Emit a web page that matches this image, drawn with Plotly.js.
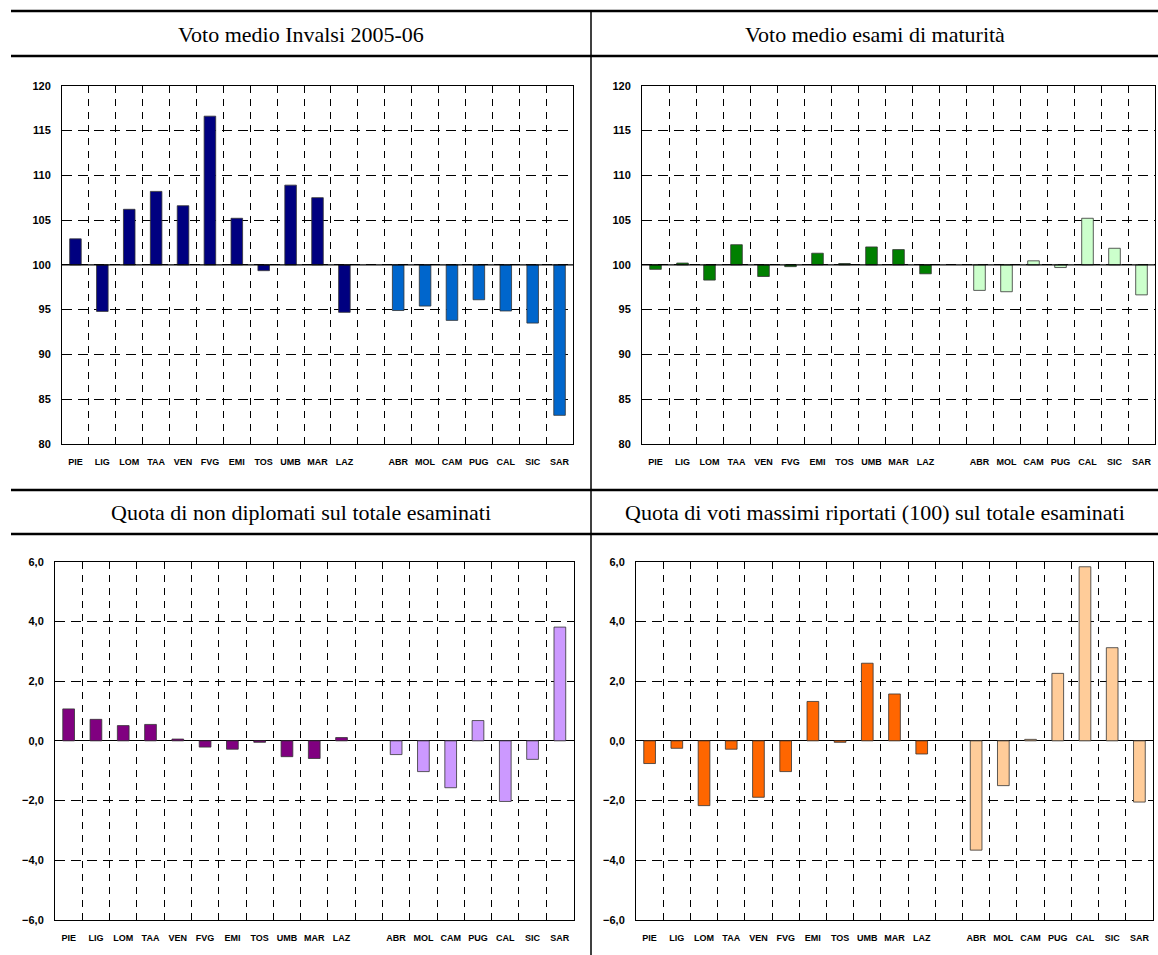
<!DOCTYPE html>
<html>
<head>
<meta charset="utf-8">
<script src="https://cdn.plot.ly/plotly-3.0.1.min.js"></script>
<style>
  html, body { margin: 0; padding: 0; background: #fff; }
  #chart { width: 1158px; height: 955px; }
</style>
</head>
<body>
<div id="chart"></div>
<script>
// ---- Data ----
const northRegions = ["PIE","LIG","LOM","TAA","VEN","FVG","EMI","TOS","UMB","MAR","LAZ"];
const southRegions = ["ABR","MOL","CAM","PUG","CAL","SIC","SAR"];
const gapLabel = " ";

const panelTitles = [
  "Voto medio Invalsi 2005-06",
  "Voto medio esami di maturità",
  "Quota di non diplomati sul totale esaminati",
  "Quota di voti massimi riportati (100) sul totale esaminati"
];

// Voto medio Invalsi 2005-06 (Italia = 100)
const invalsiNorth = [102.9, 94.8, 106.2, 108.2, 106.6, 116.6, 105.2, 99.35, 108.9, 107.5, 94.7];
const invalsiSouth = [94.9, 95.4, 93.8, 96.1, 94.85, 93.5, 83.2];

// Voto medio esami di maturità (Italia = 100)
const maturitaNorth = [99.5, 100.2, 98.3, 102.25, 98.7, 99.8, 101.3, 100.15, 102.0, 101.7, 99.0];
const maturitaSouth = [97.15, 97.0, 100.45, 99.7, 105.2, 101.85, 96.65];

// Quota di non diplomati (differenza dalla media)
const nonDiplNorth = [1.07, 0.72, 0.51, 0.55, 0.06, -0.21, -0.28, -0.05, -0.53, -0.59, 0.11];
const nonDiplSouth = [-0.46, -1.03, -1.57, 0.68, -2.03, -0.62, 3.81];

// Quota di voti massimi (differenza dalla media)
const votiMaxNorth = [-0.76, -0.25, -2.17, -0.28, -1.89, -1.03, 1.32, -0.05, 2.60, 1.57, -0.44];
const votiMaxSouth = [-3.66, -1.50, 0.05, 2.26, 5.83, 3.12, -2.05];

// ---- Build ----
const W = 1158, H = 955;
const X = px => px / W;
const Y = py => 1 - py / H;

const categories = [...northRegions, gapLabel, ...southRegions];

function buildTrace(north, south, base, cNorth, cSouth, axisIdx) {
  const vals = [...north, null, ...south];
  const y = vals.map(v => v === null ? null : v - base);
  const colors = [...north.map(() => cNorth), cNorth, ...south.map(() => cSouth)];
  const s = axisIdx === 1 ? "" : String(axisIdx);
  return {
    type: "bar",
    x: categories,
    y: y,
    base: base,
    marker: { color: colors, line: { color: "#333333", width: 0.8 } },
    xaxis: "x" + s,
    yaxis: "y" + s,
    hoverinfo: "skip",
    showlegend: false
  };
}

const traces = [
  buildTrace(invalsiNorth, invalsiSouth, 100, "#000080", "#0066CC", 1),
  buildTrace(maturitaNorth, maturitaSouth, 100, "#008000", "#CCFFCC", 2),
  buildTrace(nonDiplNorth, nonDiplSouth, 0, "#800080", "#CC99FF", 3),
  buildTrace(votiMaxNorth, votiMaxSouth, 0, "#FF6600", "#FFCC99", 4)
];

const tickFont = { family: "Liberation Sans, Arial, sans-serif", size: 11, color: "#000", weight: "bold" };
const catFont = { family: "Liberation Sans, Arial, sans-serif", size: 9, color: "#000", weight: "bold" };

function xAxis(domain, anchor) {
  return {
    domain: domain, anchor: anchor,
    type: "category",
    categoryorder: "array", categoryarray: categories,
    range: [-0.5, categories.length - 0.5],
    tickson: "boundaries",
    ticks: "",
    tickangle: 0,
    showgrid: true, gridcolor: "#000", gridwidth: 1, griddash: "7px,6px",
    showline: true, mirror: true, linecolor: "#000", linewidth: 1,
    zeroline: false,
    tickfont: catFont,
    ticklabelstandoff: 9,
    fixedrange: true
  };
}
function yAxis(domain, anchor, range, dtick, fmt) {
  return {
    domain: domain, anchor: anchor,
    range: range, dtick: dtick, tick0: range[0],
    tickformat: fmt,
    ticks: "",
    showgrid: true, gridcolor: "#000", gridwidth: 1, griddash: "10px,6px",
    showline: true, mirror: true, linecolor: "#000", linewidth: 1,
    zeroline: range[0] < 0, zerolinecolor: "#000", zerolinewidth: 1.2,
    tickfont: tickFont,
    ticklabelstandoff: 8,
    fixedrange: true
  };
}

const row1 = [Y(444), Y(85.7)];
const row2 = [Y(920), Y(561.7)];

const layout = {
  width: W, height: H, autosize: false,
  margin: { l: 0, r: 0, t: 0, b: 0 },
  paper_bgcolor: "#fff", plot_bgcolor: "#fff",
  separators: ",.",
  bargap: 0.57,
  xaxis: xAxis([X(62), X(573)], "y"),
  yaxis: yAxis(row1, "x", [80, 120], 5, "d"),
  xaxis2: xAxis([X(642), X(1155)], "y2"),
  yaxis2: yAxis(row1, "x2", [80, 120], 5, "d"),
  xaxis3: xAxis([X(55), X(573.5)], "y3"),
  yaxis3: yAxis(row2, "x3", [-6, 6], 2, ".1f"),
  xaxis4: xAxis([X(636), X(1153)], "y4"),
  yaxis4: yAxis(row2, "x4", [-6, 6], 2, ".1f"),
  annotations: [
    { text: panelTitles[0], x: X(301), y: Y(34) },
    { text: panelTitles[1], x: X(874.5), y: Y(34) },
    { text: panelTitles[2], x: X(301), y: Y(512) },
    { text: panelTitles[3], x: X(874.5), y: Y(512) }
  ].map(a => Object.assign(a, {
    xref: "paper", yref: "paper", xanchor: "center", yanchor: "middle",
    showarrow: false,
    font: { family: "Liberation Serif, Times New Roman, serif", size: 22, color: "#000" }
  })),
  shapes: [
    // table frame lines
    { type: "line", xref: "paper", yref: "paper", x0: X(11), x1: 1, y0: Y(11), y1: Y(11), line: { color: "#000", width: 2.5 } },
    { type: "line", xref: "paper", yref: "paper", x0: X(11), x1: 1, y0: Y(56), y1: Y(56), line: { color: "#000", width: 2.5 } },
    { type: "line", xref: "paper", yref: "paper", x0: X(11), x1: 1, y0: Y(490), y1: Y(490), line: { color: "#000", width: 2.5 } },
    { type: "line", xref: "paper", yref: "paper", x0: X(11), x1: 1, y0: Y(534), y1: Y(534), line: { color: "#000", width: 2.5 } },
    { type: "line", xref: "paper", yref: "paper", x0: X(591), x1: X(591), y0: Y(11), y1: 0, line: { color: "#000", width: 1.5 } },
    // base lines at 100
    { type: "line", xref: "x domain", yref: "y", x0: 0, x1: 1, y0: 100, y1: 100, line: { color: "#000", width: 1.2 }, layer: "above" },
    { type: "line", xref: "x2 domain", yref: "y2", x0: 0, x1: 1, y0: 100, y1: 100, line: { color: "#000", width: 1.2 }, layer: "above" }
  ]
};

Plotly.newPlot("chart", traces, layout, { staticPlot: true, displayModeBar: false });
</script>
</body>
</html>
